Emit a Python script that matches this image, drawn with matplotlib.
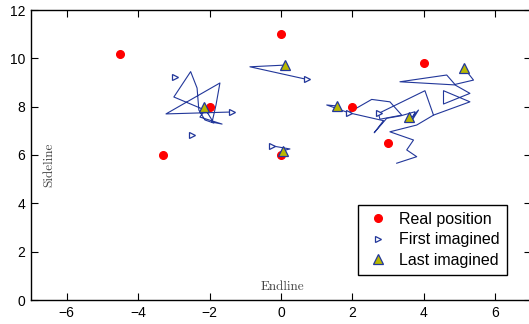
import matplotlib
matplotlib.use("Agg")
import matplotlib.pyplot as plt

# real player positions
real_x = [-4.5, -3.3, -2.0, 0.0, 0.0, 2.0, 3.0, 4.0]
real_y = [10.2, 6.0, 8.0, 11.0, 6.0, 8.0, 6.5, 9.8]

# first imagined positions
first_x = [-2.97, -2.49, -1.37, -0.26, 0.72, 1.89, 2.73]
first_y = [9.23, 6.83, 7.78, 6.38, 9.13, 7.75, 7.72]

# last imagined positions
last_x = [-2.16, 0.11, 0.05, 1.56, 3.57, 5.13]
last_y = [7.99, 9.72, 6.18, 8.03, 7.58, 9.59]

# imagined trajectories
paths = [
    ([-1.37, -3.22, -1.71, -1.82, -1.93, -1.65, -2.27, -2.13, -3.00, -2.53, -2.35, -2.30, -2.13, -1.88, -2.16],
     [7.78, 7.70, 8.98, 8.07, 7.36, 7.28, 7.57, 7.86, 8.40, 9.45, 8.77, 7.86, 7.45, 7.32, 7.99]),
    ([0.72, -0.87, 0.11], [9.13, 9.65, 9.72]),
    ([-0.26, 0.25, 0.05], [6.38, 6.25, 6.18]),
    ([1.89, 1.28, 1.56], [7.75, 8.07, 8.03]),
    ([1.89, 2.54, 3.05, 3.38, 2.77, 2.73], [7.75, 8.30, 8.20, 7.65, 7.48, 7.72]),
    ([1.89, 2.87, 2.61, 2.96, 3.35, 3.75, 3.69, 3.85, 3.62, 3.57],
     [7.75, 7.42, 6.92, 7.52, 7.62, 7.79, 7.48, 7.86, 7.50, 7.58]),
    ([2.73, 4.03, 4.27, 3.80, 3.05, 3.71, 3.52, 3.80, 3.24],
     [7.72, 8.66, 7.65, 7.24, 6.96, 6.62, 6.21, 5.93, 5.66]),
    ([4.27, 5.29, 4.55, 4.55, 5.29, 4.87, 3.33, 4.64, 4.87, 5.39, 5.13],
     [7.65, 8.20, 8.66, 8.11, 8.55, 8.90, 9.03, 9.31, 8.92, 9.10, 9.59]),
]

blue = "#22379a"

plt.rcParams["font.family"] = ["Liberation Sans", "DejaVu Sans"]
fig = plt.figure(figsize=(5.29, 3.24), dpi=100)
ax = fig.add_axes([31 / 529, 24 / 324, 500 / 529, 290 / 324])

for px, py in paths:
    ax.plot(px, py, "-", color=blue, lw=0.8, zorder=2)

ax.plot(real_x, real_y, "o", color="#ff0000", mec="#ff0000", ms=5.5,
        label="Real position", zorder=3)
ax.plot(first_x, first_y, ">", color=blue, mfc="white", mec=blue, ms=5,
        mew=0.9, label="First imagined", zorder=4)
ax.plot(last_x, last_y, "^", mfc="#b8b800", mec=blue, ms=7, mew=0.9,
        label="Last imagined", zorder=5)

ax.set_xlim(-7, 7)
ax.set_ylim(0, 12)
ax.set_xticks([-6, -4, -2, 0, 2, 4, 6])
ax.set_yticks([0, 2, 4, 6, 8, 10, 12])
ax.tick_params(direction="in", length=5, width=0.8, labelsize=10,
               top=True, right=True, pad=4)
for s in ax.spines.values():
    s.set_linewidth(1.0)

ax.text(-6.5, 5.6, "Sideline", rotation=90, ha="center", va="center",
        family=["cmr10", "DejaVu Serif"], fontsize=9.5, color="#444444")
ax.text(0.03, 0.55, "Endline", ha="center", va="center",
        family=["cmr10", "DejaVu Serif"], fontsize=9.5, color="#444444")

leg = ax.legend(loc="lower right", bbox_to_anchor=(0.952, 0.086),
                borderaxespad=0, fancybox=False, framealpha=1,
                edgecolor="black", fontsize=11.5, handlelength=1.6,
                handletextpad=0.5, labelspacing=0.35, borderpad=0.45)
leg.get_frame().set_linewidth(1.0)

fig.savefig("out.png", dpi=100)
